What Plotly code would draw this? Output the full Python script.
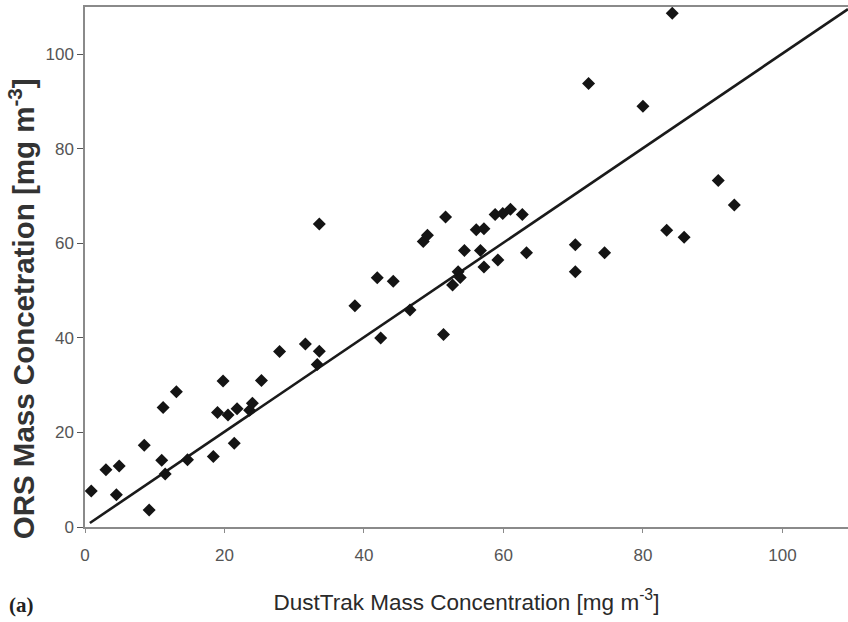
import plotly.graph_objects as go

# DustTrak (x) vs ORS (y) mass concentration, mg m-3
dusttrak = [0.9, 3.0, 4.9, 4.5, 8.5, 9.2, 11.2, 13.1, 11.0, 11.5, 14.7, 18.4, 19.8, 19.0,
            20.5, 21.8, 21.4, 23.6, 24.0, 25.3, 27.9, 31.6, 33.6, 33.3, 33.6, 38.7, 41.9,
            44.2, 42.4, 46.6, 48.5, 49.1, 51.7, 51.4, 52.7, 53.5, 53.8, 54.4, 56.1, 57.2,
            56.7, 57.2, 58.8, 59.9, 61.0, 62.7, 59.2, 63.3, 70.3, 70.3, 74.5, 72.2, 80.0,
            84.2, 90.8, 93.1, 83.4, 85.9]
ors = [7.6, 12.1, 12.9, 6.8, 17.3, 3.6, 25.3, 28.6, 14.1, 11.2, 14.2, 14.9, 30.9, 24.2,
       23.7, 25.0, 17.7, 24.7, 26.2, 31.0, 37.1, 38.7, 37.2, 34.4, 64.1, 46.8, 52.7,
       52.0, 40.0, 45.9, 60.4, 61.7, 65.6, 40.7, 51.2, 54.0, 52.8, 58.5, 62.9, 63.1,
       58.5, 55.0, 66.1, 66.3, 67.2, 66.1, 56.5, 58.0, 59.7, 54.0, 58.0, 93.8, 89.0,
       108.7, 73.3, 68.1, 62.8, 61.3]

# regression line parameters
fit_slope = 1.0
fit_intercept = 0.15
fit_x = [0.7, 109.4]
fit_y = [fit_intercept + fit_slope * v for v in fit_x]

tick_vals = [0, 20, 40, 60, 80, 100]
tick_text = ["0", "20", "40", "60", "80", "100"]

fig = go.Figure()
fig.add_trace(go.Scatter(x=fit_x, y=fit_y, mode="lines",
                         line=dict(color="#1a1a1a", width=2.6), showlegend=False))
fig.add_trace(go.Scatter(x=dusttrak, y=ors, mode="markers",
                         marker=dict(symbol="diamond", size=10, color="#141414",
                                     line=dict(width=0)),
                         showlegend=False, cliponaxis=False))

axis_font = dict(family="Liberation Sans, Arial, sans-serif", size=17, color="#555555")
fig.update_layout(
    width=848, height=622,
    margin=dict(l=85, r=0, t=7, b=95),
    paper_bgcolor="white", plot_bgcolor="white",
    xaxis=dict(range=[0, 109.4], tickvals=tick_vals, ticktext=tick_text,
               showgrid=False, zeroline=False, showline=True, linecolor="#8a8a8a",
               linewidth=1.5, mirror=True, ticks="outside", ticklen=4,
               tickcolor="#8a8a8a", tickfont=axis_font, ticklabelstandoff=8,
               title=dict(text="DustTrak Mass Concentration [mg m<sup>-3</sup>]",
                          font=dict(family="Liberation Sans, Arial, sans-serif",
                                    size=22.5, color="#2a2a2a"),
                          standoff=30)),
    yaxis=dict(range=[0, 110], tickvals=tick_vals, ticktext=tick_text,
               showgrid=False, zeroline=False, showline=True, linecolor="#8a8a8a",
               linewidth=1.5, ticks="outside", ticklen=6, tickcolor="#555555",
               tickfont=axis_font),
    annotations=[
        dict(text="<b>ORS Mass Concetration [mg m<sup>-3</sup>]</b>",
             xref="paper", yref="paper", x=-0.083, y=0.42,
             xanchor="center", yanchor="middle", textangle=-90, showarrow=False,
             font=dict(family="Liberation Sans, Arial, sans-serif", size=29.5,
                       color="#333333")),
        dict(text="<b>(a)</b>", xref="paper", yref="paper",
             x=-0.102, y=-0.15, xanchor="left", yanchor="middle",
             showarrow=False,
             font=dict(family="Liberation Serif, Times New Roman, serif",
                       size=21, color="#222222"))],
)

fig.write_html("out.html", config={"displayModeBar": False},
               post_script="document.body.style.margin='0';")
